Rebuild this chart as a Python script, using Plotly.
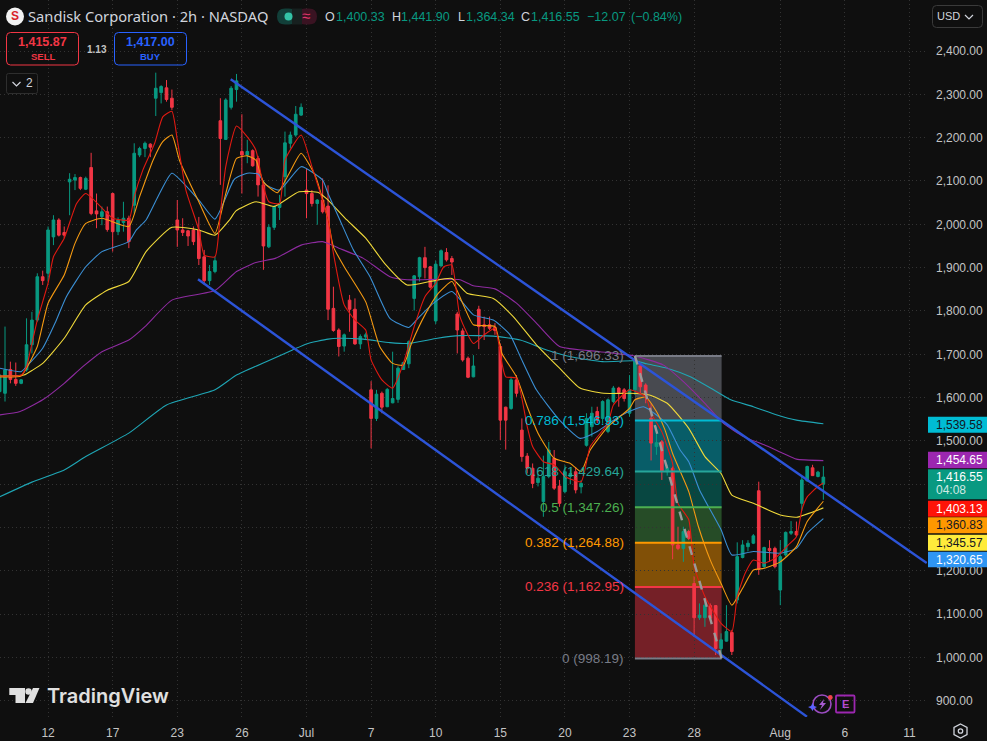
import plotly.graph_objects as go

# ---------- data ----------
bar_index = list(range(-1, 153))
opens = [1614,1610,1665,1642,1633,1664,1722,1779,1879,1887,1971,2010,1981,2098,2102,2108,2081,2131,2031,2018,2029,2071,1983,2004,2014,2044,2160,2175,2185,2291,2304,2315,2291,2010,1987,1985,1987,1987,1925,1870,1891,2239,2196,2270,2311,2168,2160,2170,2152,2091,1948,1993,2039,2110,2187,2206,2252,2079,2071,2048,2056,2042,1806,1756,1719,1825,1804,1724,1740,1618,1552,1610,1579,1588,1596,1665,1678,1829,1879,1923,1902,1777,1904,1935,1921,1793,1754,1691,1648,1804,1768,1768,1762,1718,1578,1575,1641,1525,1465,1437,1404,1360,1418,1460,1396,1383,1418,1429,1394,1490,1533,1568,1552,1522,1591,1622,1618,1564,1618,1673,1629,1552,1487,1498,1429,1437,1260,1252,1291,1171,1092,1092,1120,1120,1021,1038,1058,1133,1231,1256,1264,1385,1210,1252,1252,1156,1237,1287,1291,1356,1408,1438,1418,1400.33]
highs = [1655,1764,1683,1681,1643,1783,1798,1887,1893,1995,2021,2014,1995,2118,2116,2110,2110,2165,2071,2041,2041,2073,2016,2052,2020,2187,2179,2191,2187,2350,2321,2333,2311,2056,2014,1987,1995,2017,1941,1906,1925,2291,2291,2319,2347,2254,2195,2173,2158,2095,2000,2044,2068,2214,2214,2273,2279,2129,2079,2058,2106,2090,1856,1760,1748,1837,1829,1746,1750,1638,1618,1614,1622,1706,1672,1683,1732,1883,1925,1948,1904,1916,1942,1945,1927,1798,1760,1695,1698,1812,1787,1787,1772,1725,1579,1648,1652,1552,1472,1448,1424,1466,1498,1479,1410,1444,1435,1440,1410,1564,1579,1579,1594,1598,1627,1625,1622,1652,1695,1679,1633,1587,1533,1502,1445,1441,1302,1302,1295,1188,1125,1129,1125,1121,1056,1121,1064,1266,1271,1271,1285,1406,1256,1271,1256,1271,1291,1315,1314,1419,1443,1445,1431,1441.90]
lows = [1610,1591,1633,1627,1631,1660,1702,1775,1860,1868,1952,1972,1968,2021,2079,2079,2079,2021,1991,1998,1983,1937,1975,1983,1945,2025,2155,2155,2155,2250,2279,2283,2264,1948,1973,1950,1952,1906,1860,1860,1887,2091,2195,2265,2283,2071,2141,2133,2064,1895,1945,1987,2010,2064,2175,2202,2250,2014,2041,1999,2025,1779,1752,1695,1706,1752,1722,1712,1735,1483,1546,1564,1578,1587,1588,1664,1668,1801,1868,1875,1852,1770,1902,1914,1883,1702,1683,1645,1647,1712,1733,1756,1745,1502,1480,1572,1602,1452,1425,1391,1395,1325,1414,1387,1348,1379,1400,1379,1379,1487,1510,1541,1541,1518,1587,1579,1591,1556,1606,1610,1587,1455,1468,1410,1420,1227,1248,1221,1271,1048,1087,1071,1087,1006,998,1037,1006,1125,1229,1245,1262,1191,1206,1221,1206,1121,1233,1283,1279,1339,1406,1419,1416,1364.34]
closes = [1652,1664,1642,1633,1641,1722,1779,1879,1870,1987,2010,1975,1975,2104,2108,2083,2106,2025,2024,2029,1988,1983,2010,2014,1960,2164,2175,2187,2178,2314,2318,2288,2270,1987,1981,1973,1960,1921,1870,1891,1916,2198,2287,2314,2331,2160,2168,2135,2091,1950,1993,2041,2048,2188,2206,2254,2270,2071,2048,2056,2029,1804,1755,1718,1745,1804,1724,1741,1745,1552,1608,1578,1619,1598,1668,1681,1729,1881,1923,1900,1855,1908,1939,1918,1913,1756,1687,1647,1673,1764,1764,1760,1755,1548,1548,1641,1610,1464,1437,1402,1414,1418,1479,1391,1356,1429,1425,1387,1402,1552,1564,1548,1591,1595,1622,1612,1598,1618,1687,1625,1606,1495,1496,1431,1437,1260,1252,1291,1275,1092,1098,1121,1091,1021,1041,1060,1014,1233,1260,1264,1281,1204,1254,1247,1210,1233,1289,1291,1283,1410,1441,1420,1428,1416.55]

ema_red_x = [-1,3,4,5,6,8,9,11,13.3,15,19,20,23,24,25.6,27.8,29.3,31,32,33.6,36,37,39,40,41,43,45,46.6,48,49,51,52,55,57,60,61,63,65,67,68,70,72,74,76,78,80,81.5,83,84.5,87,89,91,92.3,93,95,97,98,100,102,104,107,108.7,112,113,116,119,120,122,124,125,127,128,130,133,135,136,137.5,139,141,143,145.5,147,148,149,151,152]
ema_red = [1650,1652,1672,1725,1779,1864,1925,1968,2048,2071,2025,2014,2010,2064,2125,2187,2248,2261,2195,2079,1987,1929,1925,2025,2133,2227,2202,2171,2087,2052,2048,2148,2206,2133,2010,1933,1814,1779,1756,1687,1641,1622,1679,1764,1833,1864,1902,1906,1787,1725,1745,1760,1679,1648,1645,1533,1487,1452,1445,1418,1406,1487,1541,1583,1618,1602,1564,1521,1448,1356,1318,1210,1141,1079,1060,1141,1195,1225,1218,1229,1260,1279,1341,1371,1395,1403.13]

ema_orange_x = [-1,3,4,6,8,11,13,15,18,23,25,27.5,29.3,31,32.4,36,39,41,43,45,46.6,48,50.6,52.8,55,57.7,60,61,63,67,69.6,72,74,75.5,78,80.5,83,85,87,91,92.3,95,97,99,102,105,107,108.7,112,116,117,119,121,122.6,124,127,128.8,131,133,135,137,139,141,144,147,149,152]
ema_orange = [1648,1650,1668,1718,1818,1883,1956,2002,2014,1995,2064,2148,2191,2206,2148,2052,1979,2071,2152,2158,2148,2098,2073,2118,2164,2110,2010,1948,1902,1821,1718,1679,1675,1725,1791,1841,1868,1818,1768,1764,1702,1648,1579,1518,1460,1448,1429,1479,1533,1575,1595,1601,1568,1525,1471,1383,1302,1225,1171,1121,1160,1202,1206,1221,1256,1314,1360.83]

ema_blue_x = [-1,3,4,7,9.3,11.4,15,18,23,24.4,26.2,28.7,31,36,39,42.6,45,47,48.5,51,55,59,60,62.2,64.7,67.8,71.5,75,77,79.6,83,87,90.7,93.8,95.7,98.7,103,106.8,110,114,117.3,118.6,121,123,125.4,127,129,133,135,139,144,147,149,152]
ema_blue = [1668,1660,1672,1714,1772,1833,1902,1937,1960,1987,2010,2071,2118,2056,2012,2104,2118,2116,2091,2079,2133,2102,2071,2010,1941,1879,1783,1762,1787,1818,1845,1791,1779,1745,1695,1618,1548,1506,1522,1556,1575,1579,1560,1537,1479,1452,1387,1295,1237,1245,1241,1252,1287,1320.65]

ema_yellow_x = [-1,3.5,5.2,7,11,15,19,23,26.2,31,36,39,41.7,42.9,46.6,50,54.6,58.3,60,63.5,67,70.5,74.7,79,83,85.8,90.7,94.4,98.7,103,106.8,111.2,116,119.7,123,127,130,133,135,139,144,147,152]
ema_yellow = [1650,1652,1664,1679,1737,1814,1848,1868,1937,1993,1987,1975,2010,2031,2052,2041,2075,2073,2056,2010,1968,1910,1860,1868,1875,1841,1829,1787,1722,1668,1622,1610,1610,1606,1587,1529,1464,1425,1375,1356,1329,1324,1345.57]

ema_purple_x = [-1,2.8,7,11,14.5,18,23,26,31,39,43,46.6,50.3,55,59,62,66.5,71.5,74.7,80.3,84.5,87,91,95,98.7,103,110.5,117,122.3,126,130,133.4,137.2,141,144.6,147,152]
ema_purple = [1560,1568,1595,1633,1672,1706,1733,1764,1825,1847,1891,1912,1922,1952,1960,1945,1922,1879,1872,1873,1872,1858,1851,1818,1772,1718,1706,1696,1675,1637,1587,1541,1510,1491,1471,1458,1454.65]

ema_teal_x = [-1,5,11,15,23,30,39,43,48.5,53.4,56,60,62,66.5,71.5,75,80.3,84.5,90.7,95.7,100.6,105.6,111,117,119.2,123,127.3,131.6,134.8,139,143.4,147,152]
ema_teal = [1371,1405,1433,1464,1518,1583,1618,1652,1683,1710,1724,1735,1737,1735,1727,1725,1737,1743,1742,1733,1710,1693,1683,1685,1678,1668,1648,1618,1595,1579,1560,1548,1539.58]

fib_ratio = ["1","0.786","0.618","0.5","0.382","0.236","0"]
fib_price = [1696.33,1546.93,1429.64,1347.26,1264.88,1162.95,998.19]
fib_bar_start, fib_bar_end = 117.0, 133.1
trend_dash_bars = [117.0, 133.1]
trend_dash_prices = [1696.33, 998.19]
upper_channel_bars = [41.92, 171.2]
upper_channel_prices = [2334.7, 1218.3]
lower_channel_bars = [35.85, 148.96]
lower_channel_prices = [1873.0, 863.6]

price_ticks = [2400,2300,2200,2100,2000,1900,1800,1700,1600,1500,1400,1300,1200,1100,1000,900]
price_ticks_hidden_by_tags = [1400,1300]
time_tick_bars = [8,20,32,44,56,68,80,92,104,116,128,144,156,168]
time_tick_text = ["12","17","23","26","Jul","7","10","15","20","23","28","Aug","6","11"]

tag_text = ["1,539.58","1,454.65","1,416.55","1,403.13","1,360.83","1,345.57","1,320.65"]
tag_fill = ["#00bcd4","#9c27b0","#089981","#ff1408","#ff9800","#ffeb3b","#2f96f3"]
tag_ink = ["#131722","#ffffff","#ffffff","#ffffff","#131722","#131722","#ffffff"]
tag_top = [416.7,451.7,469.3,500.7,517.3,534.7,551.7]
tag_bot = [432.7,468.3,499.3,516.7,533.3,550.7,567.3]

# ---------- styling ----------
BG = "#0f0f0f"
PW, PH = 927.0, 717.0
GREEN, RED = "#089981", "#f23645"
SANS = "Liberation Sans"
def px(x): return x / PW
def py(y): return 1 - y / PH

fig = go.Figure()
fig.add_trace(go.Candlestick(
    x=bar_index, open=opens, high=highs, low=lows, close=closes,
    increasing=dict(line=dict(color=GREEN, width=1), fillcolor=GREEN),
    decreasing=dict(line=dict(color=RED, width=1), fillcolor=RED),
    whiskerwidth=0, hoverinfo="skip", showlegend=False))

for xs, ys, col in [(ema_teal_x, ema_teal, "#1fa6b5"), (ema_purple_x, ema_purple, "#8e2ba0"),
                    (ema_yellow_x, ema_yellow, "#f0d93a"), (ema_blue_x, ema_blue, "#3b8fd4"),
                    (ema_orange_x, ema_orange, "#f59a12"), (ema_red_x, ema_red, "#e01a12")]:
    fig.add_trace(go.Scatter(x=xs, y=ys, mode="lines", hoverinfo="skip", showlegend=False,
                             line=dict(color=col, width=1.1, shape="spline", smoothing=0.5)))

shapes, ann = [], []
def text(x, y, s, color="#d1d4dc", size=12, anchor="left", family=SANS, weight=None):
    f = dict(color=color, size=size, family=family)
    if weight: f["weight"] = weight
    ann.append(dict(xref="paper", yref="paper", x=px(x), y=py(y), text=s, showarrow=False,
                    xanchor=anchor, yanchor="middle", font=f, borderpad=0, borderwidth=0))
def rrect(x0, y0, x1, y1, r=3, line=None, fill=None, w=1):
    X0, X1, Y0, Y1 = px(x0), px(x1), py(y0), py(y1)
    rx, ry = r / PW, r / PH
    p = (f"M{X0+rx},{Y0} L{X1-rx},{Y0} Q{X1},{Y0} {X1},{Y0-ry} L{X1},{Y1+ry} Q{X1},{Y1} {X1-rx},{Y1} "
         f"L{X0+rx},{Y1} Q{X0},{Y1} {X0},{Y1+ry} L{X0},{Y0-ry} Q{X0},{Y0} {X0+rx},{Y0} Z")
    shapes.append(dict(type="path", xref="paper", yref="paper", path=p, fillcolor=fill or "rgba(0,0,0,0)",
                       line=dict(color=line or "rgba(0,0,0,0)", width=w if line else 0)))
def poly(pts, fill=None, line=None, w=1, close=True):
    p = "M" + " L".join(f"{px(a)},{py(b)}" for a, b in pts) + (" Z" if close else "")
    shapes.append(dict(type="path", xref="paper", yref="paper", path=p, fillcolor=fill or "rgba(0,0,0,0)",
                       line=dict(color=line or "rgba(0,0,0,0)", width=w if line else 0)))
def circ(cx, cy, r, fill=None, line=None, w=1):
    shapes.append(dict(type="circle", xref="paper", yref="paper", x0=px(cx-r), x1=px(cx+r), y0=py(cy+r), y1=py(cy-r),
                       fillcolor=fill or "rgba(0,0,0,0)", line=dict(color=line or "rgba(0,0,0,0)", width=w if line else 0)))

# fibonacci bands
band_fill = ["rgba(120,123,134,0.55)","rgba(0,188,212,0.45)","rgba(0,150,136,0.42)","rgba(76,175,80,0.38)",
             "rgba(255,152,0,0.48)","rgba(242,54,69,0.45)"]
fib_color = ["#787b86","#00bcd4","#26a69a","#4caf50","#ff9800","#f23645","#787b86"]
for i, c in enumerate(band_fill):
    shapes.append(dict(type="rect", xref="x", yref="y", x0=fib_bar_start, x1=fib_bar_end, y0=fib_price[i+1], y1=fib_price[i],
                       fillcolor=c, line=dict(width=0), layer="below"))
for i, c in enumerate(fib_color):
    shapes.append(dict(type="line", xref="x", yref="y", x0=fib_bar_start, x1=fib_bar_end, y0=fib_price[i], y1=fib_price[i],
                       line=dict(color=c, width=2)))
    val = f"{fib_price[i]:,.2f}"
    ann.append(dict(xref="x", yref="y", x=fib_bar_start, y=fib_price[i], xshift=-9, text=f"{fib_ratio[i]} ({val})",
                    showarrow=False, xanchor="right", yanchor="middle", font=dict(color=c, size=13.5, family=SANS)))

# drawings
shapes.append(dict(type="line", xref="x", yref="y", x0=upper_channel_bars[0], x1=upper_channel_bars[1],
                   y0=upper_channel_prices[0], y1=upper_channel_prices[1], line=dict(color="#2c54d8", width=2.4)))
shapes.append(dict(type="line", xref="x", yref="y", x0=lower_channel_bars[0], x1=lower_channel_bars[1],
                   y0=lower_channel_prices[0], y1=lower_channel_prices[1], line=dict(color="#2c54d8", width=2.4)))
shapes.append(dict(type="line", xref="x", yref="y", x0=trend_dash_bars[0], x1=trend_dash_bars[1],
                   y0=trend_dash_prices[0], y1=trend_dash_prices[1], line=dict(color="#9a9a9a", width=2.4, dash="dash")))

# price tags
for t, f, k, y0, y1 in zip(tag_text, tag_fill, tag_ink, tag_top, tag_bot):
    rrect(928, y0, 990, y1, r=0, fill=f)
    if t == "1,416.55":
        text(936, y0 + 7.5, t, k, 12)
        text(936, y0 + 21, "04:08", "#cfe9e3", 12)
    else:
        text(936, (y0 + y1) / 2, t, k, 12)

# header
circ(15, 16.5, 9, fill="#f2f2f2")
text(15, 16.5, "<b>S</b>", "#d8232a", 12, "center")
text(28, 16.5, "Sandisk Corporation · 2h · NASDAQ", "#d1d4dc", 14.7, family="Noto Sans")
rrect(277, 8.5, 297, 24.5, r=8, fill="#123f39")
rrect(297, 8.5, 317, 24.5, r=8, fill="#3a1322")
rrect(292, 8.5, 302, 24.5, r=0, fill="#17201f")
circ(288.5, 16.5, 4, fill="#34c3a6")
text(306, 16, "≈", "#e0366c", 15, "center")
for x, s, c in [(325,"O","#d1d4dc"),(336,"1,400.33",GREEN),(392,"H","#d1d4dc"),(401,"1,441.90",GREEN),
                (458,"L","#d1d4dc"),(466,"1,364.34",GREEN),(521,"C","#d1d4dc"),(531,"1,416.55",GREEN),
                (587,"−12.07",GREEN),(631,"(−0.84%)",GREEN)]:
    text(x, 17, s, c, 12.5)

# sell / buy
rrect(6.5, 32.5, 78.5, 65, r=4, line=RED)
rrect(114.5, 32.5, 186.5, 65, r=4, line="#2962ff")
text(42.5, 41.5, "<b>1,415.87</b>", RED, 12.5, "center")
text(42.5, 56.5, "<b>SELL</b>", RED, 9.5, "center")
text(150.5, 41.5, "<b>1,417.00</b>", "#2962ff", 12.5, "center")
text(150.5, 56.5, "<b>BUY</b>", "#2962ff", 9.5, "center")
text(96.5, 49, "<b>1.13</b>", "#c4c4c4", 10, "center")
rrect(6.5, 73.5, 37.5, 93.5, r=2, line="#2e2e2e")
poly([(12.5, 82), (16.5, 86), (20.5, 82)], line="#d1d4dc", w=1.2, close=False)
text(29, 83.5, "2", "#d1d4dc", 12, "center")

# currency box
rrect(932.5, 5.5, 982.5, 27.5, r=4, line="#3a3a3a")
text(937, 16.5, "USD", "#d1d4dc", 11)
poly([(965, 15), (969, 19), (973, 15)], line="#d1d4dc", w=1.2, close=False)

# TradingView logo
poly([(9.3,688),(25,688),(25,703),(15.5,703),(15.5,695),(9.3,695)], fill="#e0e0e0")
circ(28.5, 691.5, 3.2, fill="#e0e0e0")
poly([(33,688),(39.5,688),(33,703),(25.5,703)], fill="#e0e0e0")
text(46.5, 696, "TradingView", "#e0e0e0", 20, family="Inter", weight=600)

# bottom-right badges
circ(822, 704, 9, line="#9a4cc0", w=1.6)
poly([(824,699),(819,705),(822,705),(820,710),(826,703),(823,703)], fill="#a65bd0")
poly([(812.5,703),(814,706),(817,707),(814,708.5),(812.5,711),(811,708.5),(808,707),(811,706)], fill="#5b62ff")
circ(830.3, 697.5, 2.4, fill="#f0444a")
rrect(836, 695.5, 854.5, 712.5, r=1, line="#9c27b0", w=1.8)
text(845, 704, "<b>E</b>", "#b54bd0", 11, "center")
poly([(960.5,724),(967,727.5),(967,734.5),(960.5,738),(954,734.5),(954,727.5)], line="#d1d4dc", w=1.3)
circ(960.5, 731, 2.2, line="#d1d4dc", w=1.3)

fig.update_layout(
    width=987, height=741, margin=dict(l=0, r=60, t=0, b=24, pad=0),
    paper_bgcolor=BG, plot_bgcolor=BG, showlegend=False, shapes=shapes, annotations=ann,
    xaxis=dict(range=[-0.929, 171.25], rangeslider=dict(visible=False), tickmode="array",
               tickvals=time_tick_bars, ticktext=time_tick_text, showgrid=True, gridcolor="#333333",
               griddash="1px,3px", gridwidth=1, zeroline=False, showline=False, ticks="", fixedrange=True,
               tickfont=dict(color="#c4c4c4", size=12, family=SANS), ticklabelstandoff=7),
    yaxis=dict(range=[862.9, 2517.7], side="right", tickmode="array", tickvals=price_ticks,
               ticktext=["" if p in price_ticks_hidden_by_tags else f"{p:,.2f}" for p in price_ticks],
               showgrid=True, gridcolor="#333333",
               griddash="1px,3px", gridwidth=1, zeroline=False, showline=False, ticks="", fixedrange=True,
               tickfont=dict(color="#c4c4c4", size=12, family=SANS), ticklabelstandoff=8),
)
fig.write_html("out.html", config=dict(displayModeBar=False),
               post_script="document.body.style.margin='0';document.body.style.background='#0f0f0f';")
